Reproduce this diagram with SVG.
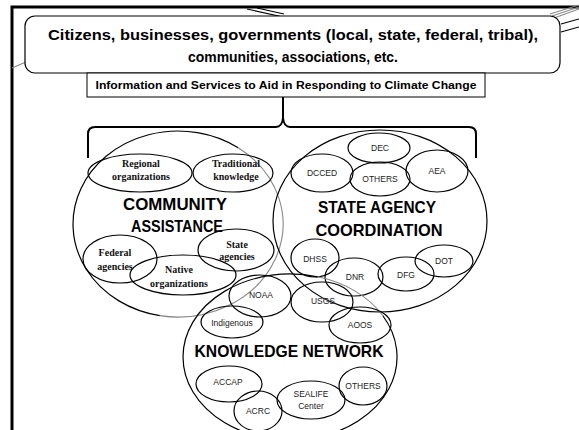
<svg xmlns="http://www.w3.org/2000/svg" width="579" height="430" viewBox="0 0 579 430">
<style>
.ln{fill:none;stroke:#000;stroke-width:1.2}
.gr{fill:none;stroke:#888;stroke-width:1.1}
.big{font-family:"Liberation Sans",Arial,sans-serif;font-weight:bold;font-size:17px;fill:#000;text-anchor:middle}
.sm{font-family:"Liberation Sans",Arial,sans-serif;font-size:8.5px;fill:#222;text-anchor:middle}
.sr{font-family:"Liberation Serif","Times New Roman",serif;font-weight:bold;font-size:10px;fill:#111;text-anchor:middle}
.ttl{font-family:"Liberation Sans",Arial,sans-serif;font-weight:bold;font-size:15.5px;fill:#000;text-anchor:middle}
.sub{font-family:"Liberation Sans",Arial,sans-serif;font-weight:bold;font-size:10px;fill:#000;text-anchor:middle}
</style>
<rect width="579" height="430" fill="#fff"/>
<g id="frame">
<path d="M12,430 L12,7 L579,7" fill="none" stroke="#000" stroke-width="3"/>
<path d="M247,9 L283,17 M257,8 L284,14" class="ln" stroke-width="0.9"/>
<path d="M550,14 L579,5 M552,16 L579,7 M554,18 L579,9" class="gr" stroke-width="0.8"/>
<path d="M561,24 L579,19 M561,32 L579,27" class="ln" stroke-width="0.9"/>
<path d="M12,68 L26,62" class="gr"/>
</g>
<g id="title">
<rect x="25" y="16" width="535" height="57" rx="10" fill="#fff" stroke="#000" stroke-width="1.2"/>
<text class="ttl" x="293" y="40" textLength="490" lengthAdjust="spacingAndGlyphs">Citizens, businesses, governments (local, state, federal, tribal),</text>
<text class="ttl" x="293" y="62" textLength="210" lengthAdjust="spacingAndGlyphs">communities, associations, etc.</text>
</g>
<g id="subtitle">
<rect x="87" y="73" width="398" height="24" fill="#fff" stroke="#000" stroke-width="1"/>
<text class="sub" x="286" y="89" textLength="381" lengthAdjust="spacingAndGlyphs">Information and Services to Aid in Responding to Climate Change</text>
</g>
<g id="connectors">
<path d="M88,158 L88,134 Q88,127 95,127 L276,127 Q282,127 283,118 L283,97 M283,118 Q284,127 290,127 L469,127 Q476,127 476,134 L476,158" fill="none" stroke="#000" stroke-width="2"/>
</g>
<g id="community">
<path d="M159.8,315.6 A105,93 0 1 1 238.2,147.8" class="ln"/>
<path d="M238.2,147.8 A105,93 0 0 1 159.8,315.6" class="gr"/>
<text class="big" x="175" y="210" textLength="104" lengthAdjust="spacingAndGlyphs">COMMUNITY</text>
<text class="big" x="177" y="232" textLength="92" lengthAdjust="spacingAndGlyphs">ASSISTANCE</text>
</g>
<g id="regional"><ellipse cx="140" cy="173" rx="52" ry="19" class="ln"/><text class="sr" x="141" y="167">Regional</text><text class="sr" x="141" y="180">organizations</text></g>
<g id="traditional"><ellipse cx="233" cy="173" rx="40" ry="19" class="ln"/><text class="sr" x="236" y="167">Traditional</text><text class="sr" x="236" y="180">knowledge</text></g>
<g id="federal"><ellipse cx="120" cy="259" rx="37" ry="24" class="ln"/><text class="sr" x="115" y="256">Federal</text><text class="sr" x="115" y="270">agencies</text></g>
<g id="native"><ellipse cx="183" cy="275" rx="53" ry="20" class="ln"/><text class="sr" x="179" y="273">Native</text><text class="sr" x="179" y="287">organizations</text></g>
<g id="stateagencies"><ellipse cx="236" cy="250" rx="38" ry="21" class="ln"/><text class="sr" x="237" y="248">State</text><text class="sr" x="237" y="260">agencies</text></g>
<g id="state">
<ellipse cx="380" cy="221" rx="107" ry="91" class="ln"/>
<text class="big" x="377" y="213" textLength="118" lengthAdjust="spacingAndGlyphs">STATE AGENCY</text>
<text class="big" x="379" y="236" textLength="127" lengthAdjust="spacingAndGlyphs">COORDINATION</text>
</g>
<g id="dec"><ellipse cx="379" cy="148" rx="31" ry="15" class="ln"/><text class="sm" x="380" y="151">DEC</text></g>
<g id="dcced"><ellipse cx="322" cy="173" rx="31" ry="19" class="ln"/><text class="sm" x="322" y="176">DCCED</text></g>
<g id="others1"><ellipse cx="380" cy="179" rx="30" ry="17" class="ln"/><text class="sm" x="380" y="181.5">OTHERS</text></g>
<g id="aea"><ellipse cx="437" cy="171" rx="31" ry="21" class="ln"/><text class="sm" x="437" y="174">AEA</text></g>
<g id="dhss"><ellipse cx="315" cy="258" rx="24" ry="19" class="ln"/><text class="sm" x="315" y="261.5">DHSS</text></g>
<g id="dnr"><ellipse cx="354" cy="277" rx="29" ry="19" class="ln"/><text class="sm" x="355" y="280">DNR</text></g>
<g id="dfg"><ellipse cx="406" cy="274" rx="28" ry="17" class="ln"/><text class="sm" x="406" y="277.5">DFG</text></g>
<g id="dot"><ellipse cx="444" cy="261" rx="29" ry="16" class="ln"/><text class="sm" x="444" y="264">DOT</text></g>
<g id="knowledge">
<path d="M317.7,276.8 A107,83 0 1 0 382.7,315.5" class="ln"/>
<path d="M317.7,276.8 A107,83 0 0 1 382.7,315.5" class="gr"/>
<text class="big" x="289" y="357" textLength="189" lengthAdjust="spacingAndGlyphs">KNOWLEDGE NETWORK</text>
</g>
<g id="noaa"><ellipse cx="260" cy="296" rx="31" ry="21" class="ln"/><text class="sm" x="261" y="298">NOAA</text></g>
<g id="usgs"><ellipse cx="322" cy="302" rx="31" ry="20" class="ln"/><text class="sm" x="323" y="304">USGS</text></g>
<g id="indigenous"><ellipse cx="232" cy="322" rx="31" ry="16" class="ln"/><text class="sm" x="232" y="325.5">Indigenous</text></g>
<g id="aoos"><ellipse cx="360" cy="325" rx="31" ry="18" class="ln"/><text class="sm" x="360" y="328">AOOS</text></g>
<g id="accap"><ellipse cx="229" cy="384" rx="33" ry="18" class="ln"/><text class="sm" x="228" y="385">ACCAP</text></g>
<g id="acrc"><ellipse cx="258" cy="411" rx="24" ry="20" class="ln"/><text class="sm" x="258" y="414">ACRC</text></g>
<g id="sealife"><ellipse cx="311" cy="400" rx="34" ry="19" class="ln"/><text class="sm" x="311" y="397">SEALIFE</text><text class="sm" x="311" y="409">Center</text></g>
<g id="others2"><ellipse cx="363" cy="386" rx="24" ry="19" class="ln"/><text class="sm" x="363" y="389">OTHERS</text></g>
</svg>
